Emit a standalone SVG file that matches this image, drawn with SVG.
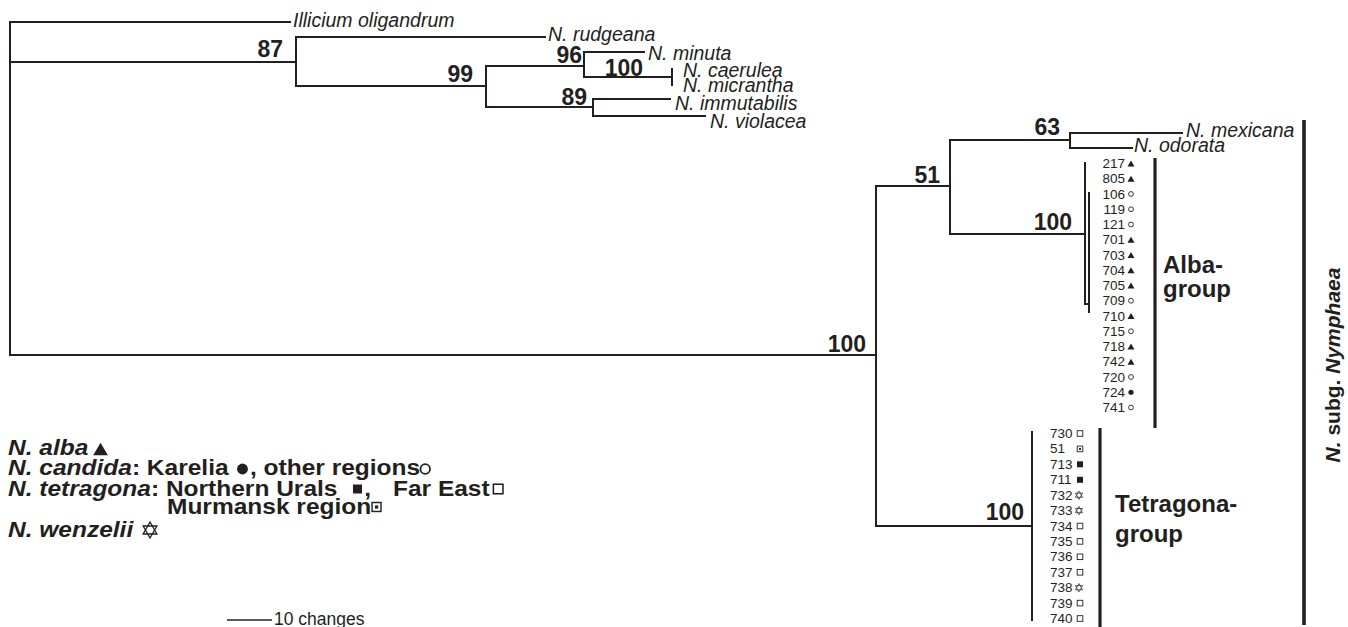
<svg xmlns="http://www.w3.org/2000/svg" xmlns:xlink="http://www.w3.org/1999/xlink" width="1348" height="627" viewBox="0 0 1348 627">
<style>
text{font-family:"Liberation Sans",Arial,sans-serif;fill:#231f20}
.sp{font-size:19.5px;font-style:italic}
.bs{font-size:23px;font-weight:bold}
.num{font-size:13.5px}
.grp{font-size:24px;font-weight:bold}
.leg{font-size:21.5px;font-weight:bold}
.it{font-style:italic}
.tree path{fill:none;stroke:#231f20;stroke-width:2;stroke-linecap:square}
.bar{stroke:#231f20;stroke-width:3.2}
</style>
<defs>
<polygon id="tri" points="0,-3 3.5,3 -3.5,3" fill="#231f20"/>
<circle id="oc" r="2.4" fill="#fff" stroke="#231f20" stroke-width="0.9"/>
<circle id="fc" r="2.6" fill="#231f20"/>
<rect id="os" x="-2.8" y="-2.8" width="5.6" height="5.6" fill="#fff" stroke="#231f20" stroke-width="0.9"/>
<rect id="fs" x="-3" y="-3" width="6" height="6" fill="#231f20"/>
<g id="ms"><rect x="-2.8" y="-2.8" width="5.6" height="5.6" fill="#fff" stroke="#231f20" stroke-width="0.9"/><rect x="-1" y="-1" width="2" height="2" fill="#231f20"/></g>
<g id="st" fill="none" stroke="#231f20" stroke-width="0.7"><polygon points="0,-4.2 3.6,2.1 -3.6,2.1"/><polygon points="0,4.2 3.6,-2.1 -3.6,-2.1"/></g>
</defs>
<rect width="1348" height="627" fill="#fff"/>

<g id="connectors" class="tree">
<path d="M10 22 V355 M10 22 H290 M10 62 H296 M296 37 V86 M296 37 H545 M296 86 H486 M486 66 V107 M486 66 H584 M584 52 V77 M584 52 H644 M584 77 H672 M672 69 V85 M486 107 H593 M593 99 V116 M593 99 H670 M593 116 H705"/>
<path d="M10 355 H876 M876 186 V526 M876 186 H950 M950 140 V234 M950 140 H1070 M1070 133 V148 M1070 133 H1182 M1070 148 H1132 M950 234 H1085 M1085 163 V304 H1089 M1089 193 V312 M876 526 H1032 M1032 432 V620"/>
</g>

<g id="taxa">
<g id="t-illicium"><text class="sp" x="293" y="27">Illicium oligandrum</text></g>
<g id="t-rudgeana"><text class="sp" x="548" y="41">N. rudgeana</text></g>
<g id="t-minuta"><text class="sp" x="648" y="60">N. minuta</text></g>
<g id="t-caerulea"><text class="sp" x="683" y="77">N. caerulea</text></g>
<g id="t-micrantha"><text class="sp" x="683" y="92">N. micrantha</text></g>
<g id="t-immutabilis"><text class="sp" x="675" y="110">N. immutabilis</text></g>
<g id="t-violacea"><text class="sp" x="710" y="128">N. violacea</text></g>
<g id="t-mexicana"><text class="sp" x="1186" y="137">N. mexicana</text></g>
<g id="t-odorata"><text class="sp" x="1134" y="152">N. odorata</text></g>
</g>

<g id="support" class="bs" text-anchor="end">
<g id="n87"><text class="bs" x="283" y="57">87</text></g>
<g id="n99"><text class="bs" x="473" y="82">99</text></g>
<g id="n96"><text class="bs" x="582" y="63">96</text></g>
<g id="n100a"><text class="bs" x="643" y="76">100</text></g>
<g id="n89"><text class="bs" x="587" y="105">89</text></g>
<g id="n63"><text class="bs" x="1060" y="135">63</text></g>
<g id="n51"><text class="bs" x="940" y="183">51</text></g>
<g id="n100b"><text class="bs" x="1072" y="230">100</text></g>
<g id="n100c"><text class="bs" x="866" y="352">100</text></g>
<g id="n100d"><text class="bs" x="1024" y="520">100</text></g>
</g>

<g id="alba-samples">
<g class="num" text-anchor="end">
<text class="num" x="1125" y="168">217</text>
<text class="num" x="1125" y="183.25">805</text>
<text class="num" x="1125" y="198.5">106</text>
<text class="num" x="1125" y="213.75">119</text>
<text class="num" x="1125" y="229">121</text>
<text class="num" x="1125" y="244.25">701</text>
<text class="num" x="1125" y="259.5">703</text>
<text class="num" x="1125" y="274.75">704</text>
<text class="num" x="1125" y="290">705</text>
<text class="num" x="1125" y="305.25">709</text>
<text class="num" x="1125" y="320.5">710</text>
<text class="num" x="1125" y="335.75">715</text>
<text class="num" x="1125" y="351">718</text>
<text class="num" x="1125" y="366.25">742</text>
<text class="num" x="1125" y="381.5">720</text>
<text class="num" x="1125" y="396.75">724</text>
<text class="num" x="1125" y="412">741</text>
</g>
<use xlink:href="#tri" x="1131" y="163.5"/>
<use xlink:href="#tri" x="1131" y="178.75"/>
<use xlink:href="#oc" x="1131" y="194"/>
<use xlink:href="#oc" x="1131" y="209.25"/>
<use xlink:href="#oc" x="1131" y="224.5"/>
<use xlink:href="#tri" x="1131" y="239.75"/>
<use xlink:href="#tri" x="1131" y="255"/>
<use xlink:href="#tri" x="1131" y="270.25"/>
<use xlink:href="#tri" x="1131" y="285.5"/>
<use xlink:href="#oc" x="1131" y="300.75"/>
<use xlink:href="#tri" x="1131" y="316"/>
<use xlink:href="#oc" x="1131" y="331.25"/>
<use xlink:href="#tri" x="1131" y="346.5"/>
<use xlink:href="#tri" x="1131" y="361.75"/>
<use xlink:href="#oc" x="1131" y="377"/>
<use xlink:href="#fc" x="1131" y="392.25"/>
<use xlink:href="#oc" x="1131" y="407.5"/>
</g>

<g id="tetragona-samples">
<text class="num" x="1050" y="438">730</text>
<text class="num" x="1050" y="453.4">51</text>
<text class="num" x="1050" y="468.8">713</text>
<text class="num" x="1050" y="484.3">711</text>
<text class="num" x="1050" y="499.7">732</text>
<text class="num" x="1050" y="515.1">733</text>
<text class="num" x="1050" y="530.5">734</text>
<text class="num" x="1050" y="545.9">735</text>
<text class="num" x="1050" y="561.3">736</text>
<text class="num" x="1050" y="576.8">737</text>
<text class="num" x="1050" y="592.2">738</text>
<text class="num" x="1050" y="607.6">739</text>
<text class="num" x="1050" y="623">740</text>
<use xlink:href="#os" x="1080" y="433.5"/>
<use xlink:href="#ms" x="1080" y="448.9"/>
<use xlink:href="#fs" x="1080" y="464.3"/>
<use xlink:href="#fs" x="1080" y="479.8"/>
<use xlink:href="#st" x="1079" y="495.2"/>
<use xlink:href="#st" x="1079" y="510.6"/>
<use xlink:href="#os" x="1080" y="526"/>
<use xlink:href="#os" x="1080" y="541.4"/>
<use xlink:href="#os" x="1080" y="556.8"/>
<use xlink:href="#os" x="1080" y="572.3"/>
<use xlink:href="#st" x="1079" y="587.7"/>
<use xlink:href="#os" x="1080" y="603.1"/>
<use xlink:href="#os" x="1080" y="618.5"/>
</g>

<g id="alba-group">
<line class="bar" x1="1155" y1="158" x2="1155" y2="428"/>
<text class="grp" x="1163" y="273">Alba-</text>
<text class="grp" x="1163" y="297">group</text>
</g>

<g id="tetragona-group">
<line class="bar" x1="1100" y1="428" x2="1100" y2="627"/>
<text class="grp" x="1115" y="512">Tetragona-</text>
<text class="grp" x="1115" y="542">group</text>
</g>

<g id="subg-nymphaea">
<line class="bar" x1="1304" y1="120" x2="1304" y2="625" style="stroke-width:3.6"/>
<text class="grp" style="font-size:21px" text-anchor="middle" transform="translate(1340 365) rotate(-90)"><tspan class="it">N.</tspan> subg. <tspan class="it">Nymphaea</tspan></text>
</g>

<g id="legend" transform="scale(1.14 1)">
<text class="leg" x="7" y="455"><tspan class="it">N. alba</tspan></text>
<use xlink:href="#tri" transform="translate(88.2 449) scale(1.84 2.1)"/>
<text class="leg" x="7" y="475"><tspan class="it">N. candida</tspan>: Karelia</text>
<use xlink:href="#fc" transform="translate(212.7 469) scale(1.84 2.1)"/>
<text class="leg" x="219.3" y="475">, other regions</text>
<use xlink:href="#oc" transform="translate(373 469) scale(1.75 2)"/>
<text class="leg" x="7" y="496"><tspan class="it">N. tetragona</tspan>: Northern Urals</text>
<use xlink:href="#fs" transform="translate(313.6 489) scale(1.32 1.5)"/>
<text class="leg" x="319.5" y="496">,</text>
<text class="leg" x="344.7" y="496">Far East</text>
<use xlink:href="#os" transform="translate(437 489) scale(1.5 1.7)"/>
<text class="leg" x="146.5" y="514">Murmansk region</text>
<use xlink:href="#ms" transform="translate(330.3 507) scale(1.4 1.6)"/>
<text class="leg" x="7" y="537"><tspan class="it">N. wenzelii</tspan></text>
<use xlink:href="#st" transform="translate(131.6 530) scale(1.67 1.9)"/>
</g>

<g id="scale-bar">
<line x1="227" y1="620" x2="272" y2="620" stroke="#231f20" stroke-width="1.5"/>
<text x="274" y="625" style="font-size:17.5px">10 changes</text>
</g>
</svg>
